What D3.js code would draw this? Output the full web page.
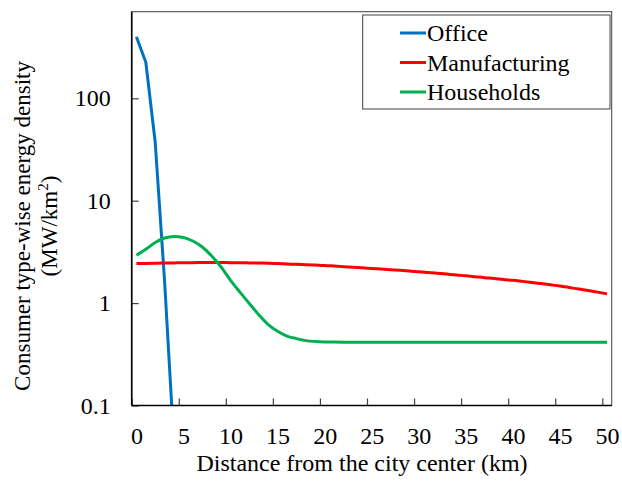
<!DOCTYPE html>
<html>
<head>
<meta charset="utf-8">
<script src="https://cdn.jsdelivr.net/npm/d3@7"></script>
<style>
  body { margin: 0; background: #fff; }
  svg { display: block; }
  svg text { font-family: "Liberation Serif", "Times New Roman", Times, "Nimbus Roman", "DejaVu Serif", serif !important; fill: #000; }
</style>
</head>
<body>
<svg id="chart" width="622" height="484"></svg>
<script>
// Distance from the city center (km), one category per km
const distances = [0,1,2,3,4,5,6,7,8,9,10,11,12,13,14,15,16,17,18,19,20,
  21,22,23,24,25,26,27,28,29,30,31,32,33,34,35,36,37,38,39,40,
  41,42,43,44,45,46,47,48,49,50];

// Energy density (MW/km2) by consumer type
const office = [400, 225, 37, 1.6, 0.04];
const manufacturing = [2.43,2.44,2.45,2.46,2.47,2.48,2.48,2.49,2.49,2.49,2.48,
  2.48,2.47,2.46,2.45,2.43,2.41,2.39,2.37,2.35,2.33,
  2.30,2.27,2.24,2.21,2.18,2.15,2.12,2.09,2.06,2.02,
  1.99,1.96,1.92,1.88,1.85,1.81,1.77,1.74,1.70,1.67,
  1.63,1.59,1.55,1.51,1.47,1.42,1.37,1.33,1.28,1.23];
const households = [2.93,3.35,3.9,4.32,4.48,4.38,4.04,3.53,2.88,2.25,1.67,
  1.28,0.99,0.77,0.615,0.53,0.476,0.45,0.43,0.422,0.418,
  0.416,0.415,0.415,0.415,0.415,0.415,0.415,0.415,0.415,0.415,
  0.415,0.415,0.415,0.415,0.415,0.415,0.415,0.415,0.415,0.415,
  0.415,0.415,0.415,0.415,0.415,0.415,0.415,0.415,0.415,0.415];

const seriesNames = ["Office", "Manufacturing", "Households"];
const seriesColors = ["#0070C0", "#FF0000", "#00B050"];
const xTickLabels = [0,5,10,15,20,25,30,35,40,45,50];
const xTickMarks = [-0.5,4.5,9.5,14.5,19.5,24.5,29.5,34.5,39.5,44.5,49.5];
const yTickValues = [0.1, 1, 10, 100];
const yTickLabels = ["0.1", "1", "10", "100"];

const serif = '"Liberation Serif", "Times New Roman", Times, "Nimbus Roman", "DejaVu Serif", serif';
const plot = { left: 131.7, top: 11.7, right: 611.7, bottom: 405.5 };
const svg = d3.select("#chart").attr("font-family", serif);

const x = d3.scaleLinear().domain([-0.5, 50.5]).range([plot.left, plot.right]);
const decade = 102.4;
const y = d3.scaleLog().domain([0.1, 1000])
  .range([plot.bottom, plot.bottom - 4 * decade]);

svg.append("defs").append("clipPath").attr("id", "plotClip")
  .append("rect")
  .attr("x", plot.left).attr("y", plot.top)
  .attr("width", plot.right - plot.left).attr("height", plot.bottom - plot.top);

// plot area frame
svg.append("rect")
  .attr("x", plot.left).attr("y", plot.top)
  .attr("width", plot.right - plot.left).attr("height", plot.bottom - plot.top)
  .attr("fill", "#fff").attr("stroke", "#404040").attr("stroke-width", 1);

// series lines: office as straight segments, the others smoothed
const allSeries = [office, manufacturing, households];
const curves = [d3.curveLinear, d3.curveMonotoneX, d3.curveMonotoneX];
svg.append("g").attr("clip-path", "url(#plotClip)")
  .selectAll("path")
  .data(allSeries)
  .join("path")
  .attr("d", (d, i) => d3.line()
      .x((v, j) => x(distances[j]))
      .y(v => y(v))
      .curve(curves[i])(d))
  .attr("fill", "none")
  .attr("stroke", (d, i) => seriesColors[i])
  .attr("stroke-width", 3)
  .attr("stroke-linejoin", "round");

// y axis: inward ticks, labels to the left
const yAxis = d3.axisLeft(y)
  .tickValues(yTickValues)
  .tickFormat((d, i) => yTickLabels[i])
  .tickSize(-7)
  .tickPadding(21);
const gy = svg.append("g").attr("transform", `translate(${plot.left},0)`).call(yAxis)
  .attr("font-family", serif).attr("font-size", 24);
gy.select(".domain").remove();
gy.selectAll(".tick line").attr("stroke", "#404040").attr("stroke-width", 1.2);

// x axis: tick marks between categories, labels under categories
const xMarks = d3.axisBottom(x).tickValues(xTickMarks).tickSize(-7).tickFormat("");
const gxm = svg.append("g").attr("transform", `translate(0,${plot.bottom})`).call(xMarks);
gxm.select(".domain").remove();
gxm.selectAll(".tick line").attr("stroke", "#404040").attr("stroke-width", 1.2);

const xLabels = d3.axisBottom(x).tickValues(xTickLabels).tickSize(0).tickPadding(21)
  .tickFormat(d => String(d));
const gxl = svg.append("g").attr("transform", `translate(0,${plot.bottom})`).call(xLabels)
  .attr("font-family", serif).attr("font-size", 24);
gxl.select(".domain").remove();

// main axis lines
svg.append("line").attr("x1", plot.left).attr("x2", plot.left)
  .attr("y1", plot.top).attr("y2", plot.bottom)
  .attr("stroke", "#000").attr("stroke-width", 1.6);
svg.append("line").attr("x1", plot.left).attr("x2", plot.right)
  .attr("y1", plot.bottom).attr("y2", plot.bottom)
  .attr("stroke", "#000").attr("stroke-width", 1.6);

// axis titles
svg.append("text")
  .attr("x", 362).attr("y", 471)
  .attr("text-anchor", "middle")
  .attr("font-size", 24)
  .text("Distance from the city center (km)");

const yTitle = svg.append("g").attr("transform", "translate(30,226) rotate(-90)");
yTitle.append("text")
  .attr("x", 0).attr("y", 0)
  .attr("text-anchor", "middle")
  .attr("font-size", 23)
  .text("Consumer type-wise energy density");
const unit = yTitle.append("text")
  .attr("x", 0).attr("y", 27)
  .attr("text-anchor", "middle")
  .attr("font-size", 23);
unit.append("tspan").text("(MW/km");
unit.append("tspan").attr("dy", -9).attr("font-size", 15).text("2");
unit.append("tspan").attr("dy", 9).text(")");

// legend
const legend = svg.append("g");
legend.append("rect")
  .attr("x", 362.7).attr("y", 15)
  .attr("width", 247.3).attr("height", 94)
  .attr("fill", "#fff").attr("stroke", "#404040").attr("stroke-width", 1);
const rowsY = [33, 62.5, 92];
seriesNames.forEach((name, i) => {
  legend.append("line")
    .attr("x1", 400).attr("x2", 426)
    .attr("y1", rowsY[i]).attr("y2", rowsY[i])
    .attr("stroke", seriesColors[i]).attr("stroke-width", 3);
  legend.append("text")
    .attr("x", 427).attr("y", rowsY[i] + 8)
    .attr("font-size", 24)
    .text(name);
});
</script>
</body>
</html>
